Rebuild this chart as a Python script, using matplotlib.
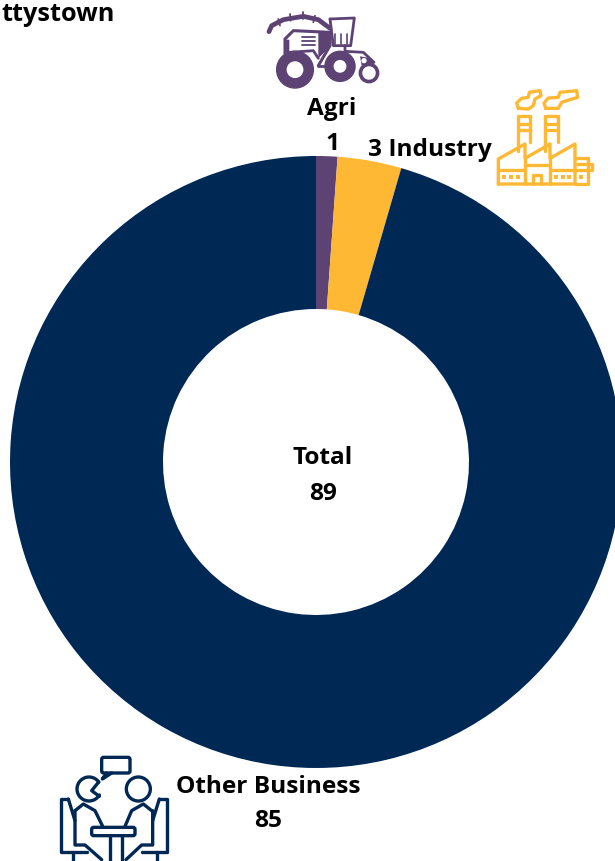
#!/bin/python
import matplotlib
matplotlib.use('Agg')
import matplotlib.pyplot as plt
from matplotlib.patches import Circle, FancyBboxPatch
import numpy as np

categories = ['Agri', 'Industry', 'Other Business']
values = [1, 3, 85]
colors = ['#5C4373', '#FFB833', '#002855']
total = 89
title = 'ttystown'

W, H = 615, 862

plt.rcParams['font.family'] = ['Open Sans', 'DejaVu Sans']

fig = plt.figure(figsize=(W / 100, H / 100), dpi=100)
ax = fig.add_axes([0, 0, 1, 1])

# donut, axes are in image pixels (y flipped by hand)
ax.pie(values, colors=colors, startangle=90, counterclock=False,
       center=(316, H - 463), radius=306, frame=True,
       wedgeprops=dict(width=153, linewidth=0))
ax.set_xlim(0, W)
ax.set_ylim(0, H)
ax.axis('off')


def label(x, y, s):
    ax.text(x, H - y, s, ha='center', va='center', fontsize=17.6,
            fontweight='bold', color='black')


label(323, 458, 'Total')
label(323, 494, str(total))
label(332, 109, categories[0])
label(332, 144, str(values[0]))
label(430, 150, f'{values[1]} {categories[1]}')
label(268, 787, categories[2])
label(268, 821, str(values[2]))
ax.text(1, H - 14, title, ha='left', va='center', fontsize=18.2,
        fontweight='bold', color='black')


# icons, coordinates taken from the 3x crops
def line(pts, off, color, lw=2.4):
    pts = np.array(pts, dtype=float)
    ax.plot(off[0] + pts[:, 0] / 3, H - (off[1] + pts[:, 1] / 3), color=color,
            lw=lw, solid_capstyle='round', solid_joinstyle='round')


def disc(xy, r, off, color, fill=True, lw=2.0, fc=None):
    ax.add_patch(Circle((off[0] + xy[0] / 3, H - (off[1] + xy[1] / 3)), r / 3,
                        fc=(fc or color) if fill else 'none', ec=color, lw=lw))


def poly(pts, off, color):
    pts = np.array(pts, dtype=float)
    ax.fill(off[0] + pts[:, 0] / 3, H - (off[1] + pts[:, 1] / 3), color=color, lw=0)


# tractor
off = (250, 0)
c = colors[0]
line([(57, 98), (65, 80), (100, 62), (160, 52), (205, 62), (240, 88)], off, c, 3.4)
for p in [(85, 60, 90, 80), (120, 45, 122, 65), (160, 40, 160, 60), (195, 50, 190, 70)]:
    line([(p[0], p[1]), (p[2], p[3])], off, c, 1.3)
line([(240, 60), (313, 57), (302, 140), (285, 140), (285, 157), (340, 160), (372, 190)], off, c, 2.0)
line([(240, 60), (250, 140), (285, 140)], off, c, 2.0)
line([(105, 165), (105, 120), (130, 95), (240, 100), (240, 140), (205, 200)], off, c, 2.2)
poly([(205, 100), (238, 100), (238, 145), (205, 178)], off, c)
poly([(104, 122), (118, 122), (118, 160), (104, 165)], off, c)
for y in [115, 127, 139]:
    line([(155, y), (195, y)], off, c, 1.3)
line([(120, 160), (190, 155), (205, 178)], off, c, 2.0)
for x in [255, 272, 290]:
    line([(x, 105), (x, 135)], off, c, 1.2)
line([(205, 200), (240, 200)], off, c, 2.0)
disc((135, 212), 53, off, c)
disc((135, 212), 21, off, 'white')
disc((270, 202), 43, off, c)
disc((270, 202), 15, off, 'white')
poly([(330, 172), (365, 178), (372, 195), (335, 200)], off, c)
disc((342, 185), 8, off, 'white', lw=0)
disc((357, 222), 27, off, c)
disc((357, 222), 16, off, 'white')

# factory
off = (250, 0)
c = colors[1]
line([(745, 555), (745, 480), (825, 435), (825, 478), (900, 435), (900, 478),
      (975, 435), (975, 555), (745, 555)], off, c)
line([(825, 478), (825, 555)], off, c)
line([(900, 478), (900, 555)], off, c)
line([(745, 512), (825, 512)], off, c)
line([(825, 498), (900, 498)], off, c)
line([(900, 512), (1020, 512)], off, c)
line([(975, 478), (1015, 478), (1015, 555), (975, 555)], off, c)
line([(980, 495), (1025, 495), (1025, 512)], off, c)
line([(848, 555), (848, 528), (872, 528), (872, 555)], off, c)
for x0, x1 in [(803, 840), (885, 925)]:
    line([(x0, 455), (x0, 350), (x1, 350), (x1, 430)], off, c)
    line([(x0, 375), (x1, 375)], off, c)
    line([(x0, 392), (x1, 392)], off, c)
line([(805, 328), (800, 312), (815, 298), (835, 295), (838, 280), (870, 275),
      (873, 290), (855, 300), (850, 320), (835, 330), (805, 328)], off, c)
line([(887, 328), (882, 312), (895, 297), (925, 295), (930, 280), (980, 275),
      (983, 295), (950, 305), (935, 310), (925, 328), (887, 328)], off, c)
for x in [762, 783, 804, 918, 938, 958, 992]:
    ax.add_patch(plt.Rectangle((off[0] + x / 3 - 2, H - (off[1] + 534 / 3) - 2), 4, 4,
                               fc=c, lw=0))

# two people at a table
off = (40, 740)
c = colors[2]
ax.add_patch(FancyBboxPatch((off[0] + 185 / 3, H - (off[1] + 102 / 3)), 85 / 3, 47 / 3,
                            boxstyle='round,pad=0,rounding_size=2', fc='none', ec=c, lw=2.4))
line([(200, 102), (187, 120), (215, 102)], off, c)
disc((295, 150), 36, off, c, fill=False, lw=2.4)
t = np.linspace(np.radians(35), np.radians(330), 30)
line(np.c_[147 + 36 * np.cos(t), 150 - 36 * np.sin(t)].tolist(), off, c)
line([(176, 129), (155, 155), (178, 172)], off, c)
line([(105, 215), (130, 195), (165, 215), (188, 262)], off, c)
line([(335, 215), (310, 195), (275, 215), (255, 262)], off, c)
line([(105, 215), (105, 318), (135, 318), (185, 362)], off, c)
line([(338, 215), (338, 318), (305, 318), (258, 362)], off, c)
line([(85, 180), (63, 180), (63, 340), (140, 340)], off, c)
line([(85, 180), (105, 245)], off, c)
line([(358, 180), (380, 180), (380, 340), (305, 340)], off, c)
line([(358, 180), (338, 245)], off, c)
ax.add_patch(FancyBboxPatch((off[0] + 155 / 3, H - (off[1] + 290 / 3)), 130 / 3, 25 / 3,
                            boxstyle='round,pad=0,rounding_size=2', fc='none', ec=c, lw=2.4))
line([(210, 290), (210, 366)], off, c)
line([(245, 290), (245, 366)], off, c)
line([(98, 340), (98, 366)], off, c)
line([(350, 340), (350, 366)], off, c)

fig.savefig('out.png', dpi=100)
